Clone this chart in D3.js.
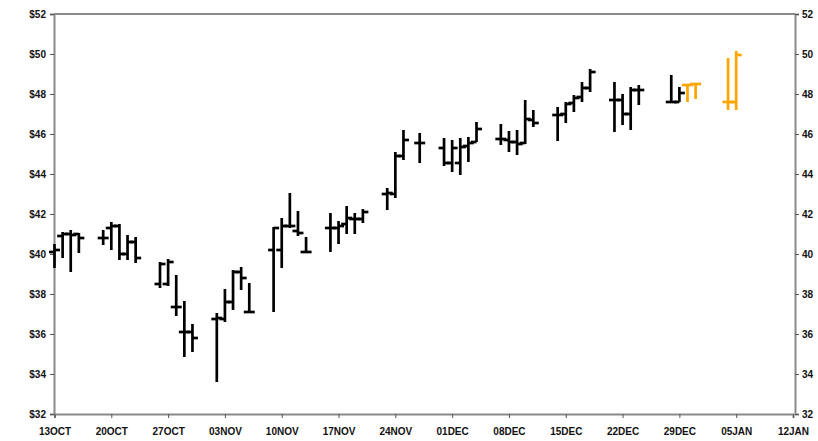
<!DOCTYPE html>
<html><head><meta charset="utf-8">
<script src="https://cdn.jsdelivr.net/npm/d3@7"></script>
<style>
html,body{margin:0;padding:0;background:#fff;}
svg{display:block;}
.lbl{font-family:"Liberation Sans Narrow","Arial Narrow","Liberation Sans",sans-serif;font-weight:bold;font-size:10px;fill:#111;}
</style></head>
<body>
<svg id="c" width="818" height="441"></svg>
<script>
// ---- data (bars placed at the dates where they appear on the chart) ----
const dates = [
 "2008-10-13","2008-10-14","2008-10-15","2008-10-16",
 "2008-10-19","2008-10-20","2008-10-21","2008-10-22","2008-10-23",
 "2008-10-26","2008-10-27","2008-10-28","2008-10-29","2008-10-30",
 "2008-11-02","2008-11-03","2008-11-04","2008-11-05","2008-11-06",
 "2008-11-09","2008-11-10","2008-11-11","2008-11-12","2008-11-13",
 "2008-11-16","2008-11-17","2008-11-18","2008-11-19","2008-11-20",
 "2008-11-23","2008-11-24","2008-11-25","2008-11-27",
 "2008-11-30","2008-12-01","2008-12-02","2008-12-03","2008-12-04",
 "2008-12-07","2008-12-08","2008-12-09","2008-12-10","2008-12-11",
 "2008-12-14","2008-12-15","2008-12-16","2008-12-17","2008-12-18",
 "2008-12-21","2008-12-22","2008-12-23","2008-12-24",
 "2008-12-28","2008-12-29"];
const open  = [40.1,40.9,41.0,41.0, 40.8,41.3,41.4,40.0,40.6, 38.5,38.5,37.35,36.1,36.1,
 36.75,36.75,37.6,39.1,37.1, 40.2,40.2,41.4,41.15,40.1, 41.3,41.3,41.5,41.75,41.75,
 43.0,43.0,44.9,45.55, 45.3,44.55,44.55,45.4,45.6, 45.75,45.7,45.6,45.55,46.7,
 46.95,47.0,47.55,47.85,48.3, 47.7,47.7,47.0,48.2, 47.6,47.6];
const high  = [40.5,41.1,41.2,41.05, 41.2,41.6,41.5,40.95,40.85, 39.6,39.75,38.95,37.65,36.5,
 37.05,38.25,39.2,39.35,38.55, 41.35,41.8,43.05,42.15,40.85, 42.05,41.65,42.4,42.05,42.25,
 43.3,45.1,46.2,46.05, 45.8,45.7,45.8,45.85,46.6, 46.5,46.15,46.2,47.7,47.2,
 47.35,47.6,47.95,48.6,49.25, 48.6,48.0,48.35,48.45, 48.95,48.35];
const low   = [39.3,39.8,39.1,40.05, 40.45,40.2,39.7,39.7,39.55, 38.3,38.4,36.9,34.85,35.1,
 33.6,36.6,37.2,38.2,37.05, 37.1,39.3,41.3,40.9,40.05, 40.1,40.5,41.0,41.0,41.55,
 42.2,42.8,44.7,44.55, 44.4,44.1,43.95,44.6,45.6, 45.45,45.1,44.95,45.5,46.35,
 45.65,46.55,47.1,47.6,48.1, 46.1,46.45,46.2,47.45, 47.55,47.6];
const close = [40.2,41.0,40.95,40.8, 40.8,41.4,40.0,40.6,39.8, 39.5,39.6,37.35,36.1,35.8,
 36.8,37.6,39.1,38.8,37.1, 41.3,41.4,41.4,41.05,40.1, 41.3,41.4,41.8,41.75,42.1,
 43.05,44.9,45.7,45.55, 44.55,45.3,45.35,45.55,46.25, 45.75,45.6,45.5,46.75,46.55,
 46.95,47.5,47.8,48.3,49.1, 47.7,47.0,48.2,48.2, 47.6,48.05];
// projected bars (drawn in orange)
const projDates = ["2008-12-30","2008-12-31","2009-01-04","2009-01-05"];
const projOpen  = [48.45,48.5,47.6,47.6];
const projHigh  = [48.5,48.55,49.8,50.15];
const projLow   = [47.6,47.75,47.2,47.2];
const projClose = [48.45,48.5,47.6,49.95];
// axes
const xTickDates  = ["2008-10-13","2008-10-20","2008-10-27","2008-11-03","2008-11-10","2008-11-17","2008-11-24","2008-12-01","2008-12-08","2008-12-15","2008-12-22","2008-12-29","2009-01-05","2009-01-12"];
const xTickLabels = ["13OCT","20OCT","27OCT","03NOV","10NOV","17NOV","24NOV","01DEC","08DEC","15DEC","22DEC","29DEC","05JAN","12JAN"];
const yTicks = [32,34,36,38,40,42,44,46,48,50,52];

// ---- drawing ----
const parse = d3.utcParse("%Y-%m-%d");
const svg = d3.select("#c");
const L = 54, R = 795, T = 14, B = 414;
const x = d3.scaleUtc().domain([parse("2008-10-13"), parse("2009-01-12")]).range([L + 0.5, R - 2]);
const y = d3.scaleLinear().domain([32, 52]).range([B, T]);

const axisCol = "#8a8a8a";
const gl = svg.append("g").attr("transform", `translate(${L},0)`)
  .call(d3.axisLeft(y).tickValues(yTicks).tickFormat(d => "$" + d).tickSize(4).tickPadding(4));
const gr = svg.append("g").attr("transform", `translate(${R},0)`)
  .call(d3.axisRight(y).tickValues(yTicks).tickFormat(d => d).tickSize(4).tickPadding(3));
const gb = svg.append("g").attr("transform", `translate(0,${B})`)
  .call(d3.axisBottom(x).tickValues(xTickDates.map(parse)).tickFormat((d, i) => xTickLabels[i]).tickSize(4).tickPadding(10));
svg.append("line").attr("x1", L).attr("x2", R).attr("y1", T).attr("y2", T)
  .attr("stroke", axisCol).attr("stroke-width", 2);
[gl, gr, gb].forEach(g => {
  g.select(".domain").attr("stroke", axisCol).attr("stroke-width", 2);
  g.selectAll(".tick line").attr("stroke", "#555").attr("stroke-width", 1);
  g.selectAll(".tick text").attr("class", "lbl");
});
gb.selectAll(".tick text").attr("dy", "0.71em");

function drawBars(ds, o, h, l, c, color) {
  const g = svg.append("g").attr("stroke", color).attr("stroke-width", 2.7).attr("fill", "none");
  ds.forEach((d, i) => {
    const cx = x(parse(d));
    g.append("line").attr("x1", cx).attr("x2", cx).attr("y1", y(h[i])).attr("y2", y(l[i]));
    g.append("line").attr("x1", cx - 5.5).attr("x2", cx).attr("y1", y(o[i])).attr("y2", y(o[i]));
    g.append("line").attr("x1", cx).attr("x2", cx + 5.5).attr("y1", y(c[i])).attr("y2", y(c[i]));
  });
}
drawBars(dates, open, high, low, close, "#000");
drawBars(projDates, projOpen, projHigh, projLow, projClose, "#ffa500");
</script>
</body></html>
